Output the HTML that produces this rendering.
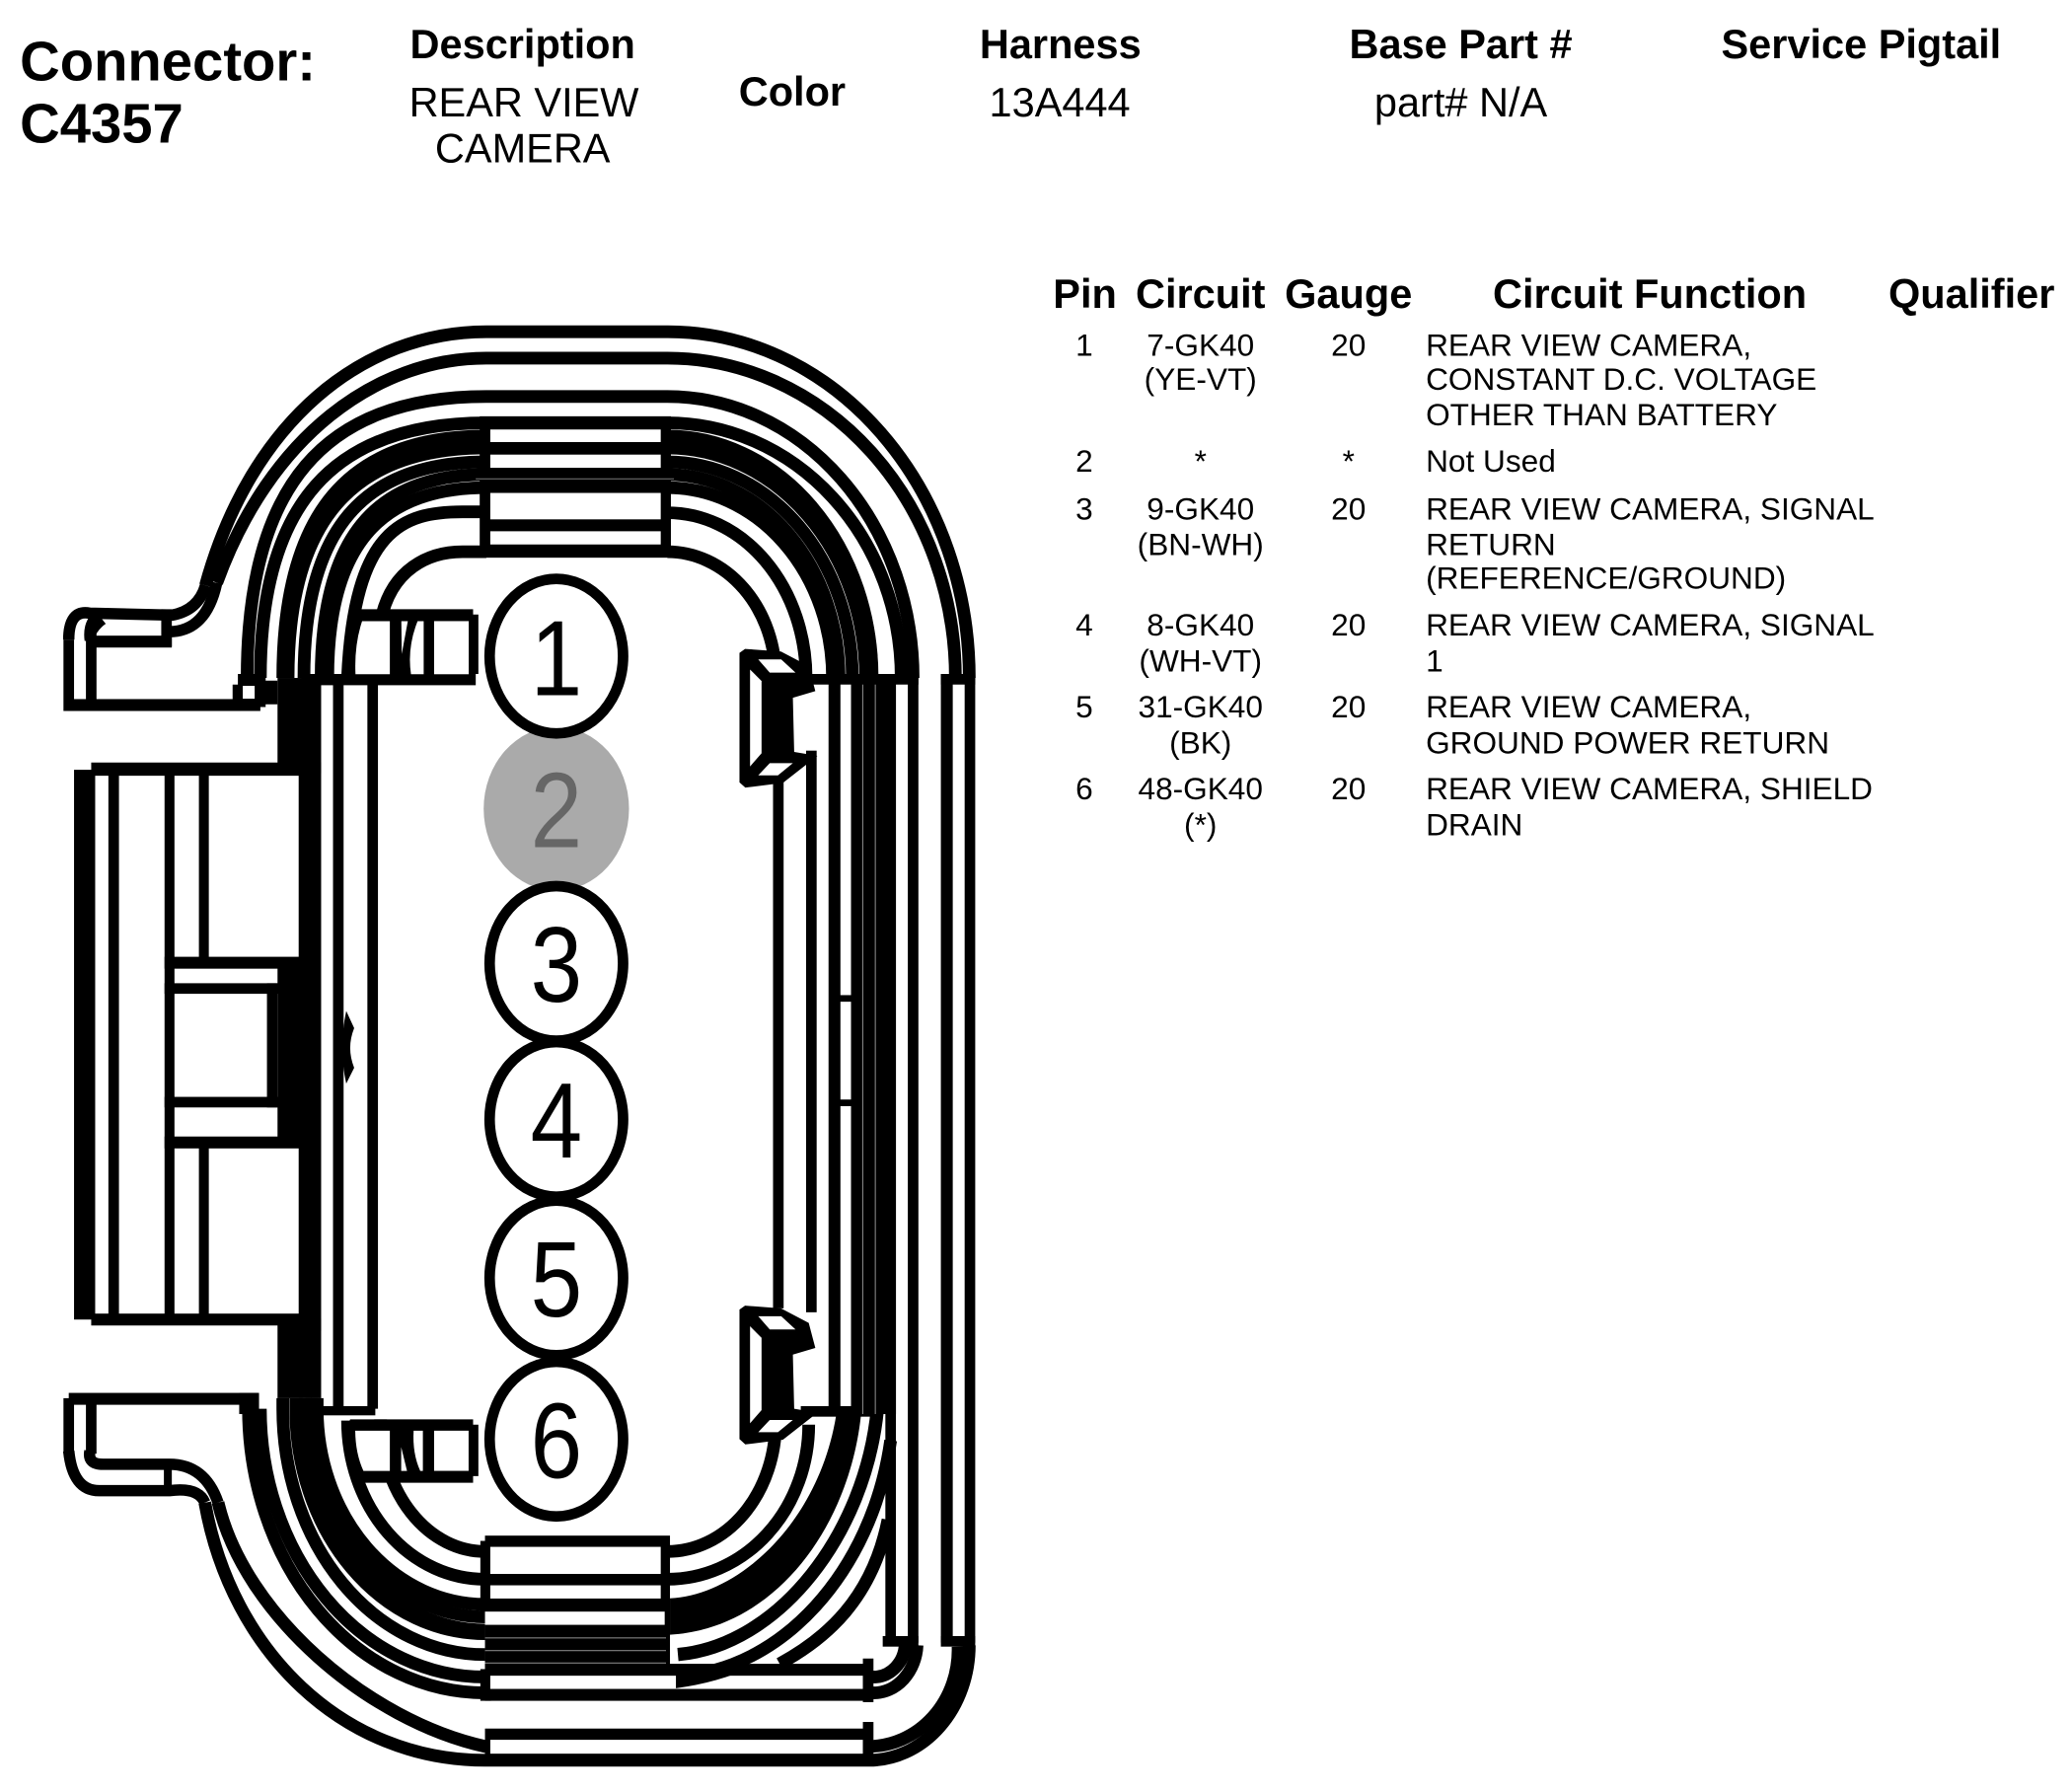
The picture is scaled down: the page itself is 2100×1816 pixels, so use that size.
<!DOCTYPE html>
<html><head><meta charset="utf-8"><style>
html,body{margin:0;padding:0;background:#fff}
svg{display:block}
text{font-family:"Liberation Sans",Arial,sans-serif;fill:#000}
.b{font-weight:bold;font-size:31px;text-anchor:middle}
.h{font-size:31px;text-anchor:middle}
.t{font-size:23.6px}
.c{font-size:23.6px;text-anchor:middle}
.d{font-size:81px;text-anchor:middle}
.l{fill:none;stroke:#000;stroke-width:9.6}
</style></head><body>
<svg xmlns="http://www.w3.org/2000/svg" width="2100" height="1816" viewBox="0 0 1568 1356">
<rect width="1568" height="1356" fill="#fff"/>
<text x="15" y="61" style="font-weight:bold;font-size:42px">Connector:</text>
<text x="15" y="108" style="font-weight:bold;font-size:42px">C4357</text>
<text class="b" x="395.5" y="44">Description</text>
<text class="h" x="396.5" y="88">REAR VIEW</text>
<text class="h" x="395.5" y="123">CAMERA</text>
<text class="b" x="599.5" y="80">Color</text>
<text class="b" x="802.5" y="44">Harness</text>
<text class="h" x="802" y="88">13A444</text>
<text class="b" x="1105.5" y="44">Base Part #</text>
<text class="h" x="1105.5" y="88">part# N/A</text>
<text class="b" x="1408.5" y="44">Service Pigtail</text>
<text class="b" x="821" y="233">Pin</text>
<text class="b" x="908.5" y="233">Circuit</text>
<text class="b" x="1020.5" y="233">Gauge</text>
<text class="b" x="1248.5" y="233">Circuit Function</text>
<text class="b" x="1492" y="233">Qualifier</text>
<text class="c" x="820.5" y="269">1</text><text class="c" x="908.5" y="269">7-GK40</text><text class="c" x="908.5" y="295">(YE-VT)</text><text class="c" x="1020.5" y="269">20</text>
<text class="t" x="1079" y="269">REAR VIEW CAMERA,</text><text class="t" x="1079" y="295">CONSTANT D.C. VOLTAGE</text><text class="t" x="1079" y="322">OTHER THAN BATTERY</text>
<text class="c" x="820.5" y="357">2</text><text class="c" x="908.5" y="357">*</text><text class="c" x="1020.5" y="357">*</text><text class="t" x="1079" y="357">Not Used</text>
<text class="c" x="820.5" y="393">3</text><text class="c" x="908.5" y="393">9-GK40</text><text class="c" x="908.5" y="420">(BN-WH)</text><text class="c" x="1020.5" y="393">20</text>
<text class="t" x="1079" y="393">REAR VIEW CAMERA, SIGNAL</text><text class="t" x="1079" y="420">RETURN</text><text class="t" x="1079" y="445.5">(REFERENCE/GROUND)</text>
<text class="c" x="820.5" y="481">4</text><text class="c" x="908.5" y="481">8-GK40</text><text class="c" x="908.5" y="508">(WH-VT)</text><text class="c" x="1020.5" y="481">20</text>
<text class="t" x="1079" y="481">REAR VIEW CAMERA, SIGNAL</text><text class="t" x="1079" y="508">1</text>
<text class="c" x="820.5" y="543">5</text><text class="c" x="908.5" y="543">31-GK40</text><text class="c" x="908.5" y="570">(BK)</text><text class="c" x="1020.5" y="543">20</text>
<text class="t" x="1079" y="543">REAR VIEW CAMERA,</text><text class="t" x="1079" y="570">GROUND POWER RETURN</text>
<text class="c" x="820.5" y="605">6</text><text class="c" x="908.5" y="605">48-GK40</text><text class="c" x="908.5" y="632">(*)</text><text class="c" x="1020.5" y="605">20</text>
<text class="t" x="1079" y="605">REAR VIEW CAMERA, SHIELD</text><text class="t" x="1079" y="632">DRAIN</text>

<!-- top arcs -->
<path class="l" style="stroke-width:8.6" d="M52 484Q52 461 68 464L130 465.5Q150 462 155.5 443"/>
<path class="l" d="M155.5 443C190 318 275 251 368 251H505A228 262 0 0 1 733.5 513"/>
<path class="l" style="stroke-width:8.6" d="M128 478Q156 478 164 441"/>
<path class="l" d="M164 441C204 330 285 271 368 271H505A218 242 0 0 1 723 513"/>
<path class="l" d="M187 513C187 368 245 300 368 300H505A186 213 0 0 1 691 513"/>
<path class="l" d="M368 320C251.700 320 197 381.800 197 513"/>
<path class="l" d="M505 320A177 193 0 0 1 682 513"/>
<path class="l" d="M368 330C263 330 214 388.600 214 513"/>
<path class="l" d="M368 339C266 339 218 394.700 218 513"/>
<path class="l" d="M505 330A155 183 0 0 1 660 513"/>
<path class="l" d="M505 339A150 174 0 0 1 655 513"/>
<path class="l" d="M368 349.500C274 349.500 230 401.800 230 513"/>
<path class="l" d="M505 349.500A140 163.500 0 0 1 645 513"/>
<path class="l" d="M368 359C283 359 243 408.300 243 513"/>
<path class="l" d="M368 369C286 369 248 415 248 513"/>
<path class="l" d="M505 359A130 154 0 0 1 635 513"/>
<path class="l" d="M505 369A125 144 0 0 1 630 513"/>
<path class="l" d="M368 387.300H350C305 387.300 268 400 263 513"/>
<path class="l" d="M505 388A105 125 0 0 1 610 513"/>
<path class="l" d="M368 417.500H350C325 417.500 296 430 288 470"/>
<path class="l" d="M505 417.500A82 95.500 0 0 1 587 513"/>

<!-- bottom arcs -->
<path class="l" style="stroke-width:8.6" d="M52 1098Q55 1128 75 1128H128Q150 1125 155 1137"/>
<path class="l" d="M155 1137C175 1250 260 1332 367 1332H657A76 87 0 0 0 733.500 1245"/>
<path class="l" style="stroke-width:8.6" d="M68 1098Q66 1108 78 1108H128Q155 1108 165 1137"/>
<path class="l" d="M165 1137C185 1222 279 1302 367 1321.500H657A68 73 0 0 0 725 1246"/>
<path class="l" d="M188 1066A179 215 0 0 0 367 1281H661A33 38 0 0 0 694 1245"/>
<path class="l" d="M197 1066A170 203 0 0 0 367 1269H661A24 26 0 0 0 685 1244"/>
<path class="l" d="M214 1058V1066A153 186 0 0 0 367 1252"/>
<path class="l" style="stroke-width:10" d="M224 1058V1066A143 170 0 0 0 367 1236"/>
<path class="l" d="M231 1058V1066A136 167.500 0 0 0 367 1233.500"/>
<path class="l" d="M236 1058V1066A131 157.500 0 0 0 367 1223.500"/>
<path class="l" d="M240 1058V1066A127 148 0 0 0 367 1214"/>
<path class="l" d="M263 1075A104 120 0 0 0 367 1195H505A107 117 0 0 0 612 1078"/>
<path class="l" d="M288 1074A79 100 0 0 0 367 1174H505A82 98 0 0 0 587 1076"/>
<path d="M507 1209.500C560 1207 622 1150 633.500 1066H652C645 1150 590 1232 507 1237Z"/>
<path class="l" style="stroke-width:10" d="M513 1252C590 1245 655 1160 664 1066"/>
<path class="l" d="M513 1268C590 1265 660 1190 674 1090"/>
<path class="l" d="M590 1259C625 1240 660 1210 672 1150"/>

<!-- left vertical stacks -->
<rect x="210" y="513" width="33" height="72"/><rect x="210" y="998" width="33" height="60"/>
<rect x="226" y="577" width="17" height="430"/><rect x="210" y="732" width="18" height="131"/>
<rect x="252" y="513" width="8" height="553"/><rect x="278" y="513" width="8" height="553"/>
<rect x="228" y="510" width="132" height="8.500"/><rect x="234" y="1064" width="50" height="7"/>

<!-- left box -->
<rect x="56" y="582.500" width="16" height="416"/><rect x="82" y="582.500" width="8" height="416"/>
<rect x="124.500" y="582" width="7.500" height="417"/><rect x="150.500" y="582" width="7.500" height="146"/><rect x="150.500" y="864" width="7.500" height="135"/>
<rect x="69" y="577" width="160" height="10"/><rect x="69" y="994" width="160" height="9"/>
<rect x="124.500" y="724" width="104" height="9"/><rect x="124.500" y="744" width="86" height="8"/>
<rect x="202" y="744" width="8" height="94"/><rect x="124.500" y="830" width="86" height="8"/><rect x="124.500" y="860" width="104" height="9"/>
<path d="M262 765L268 778Q262 793 268 808L262 820Q256 793 262 765Z"/>

<!-- tab details -->
<rect x="48" y="484" width="8" height="54"/><rect x="65" y="476" width="8" height="60"/><rect x="52" y="529" width="130" height="9"/>
<path d="M176 518H180V510H201V515H210V533H201V535H197V538H180V535H176Z"/><rect x="183.700" y="519" width="9" height="9.700" fill="#fff"/>
<rect x="70" y="481" width="60" height="9"/><rect x="122" y="461" width="8" height="28"/>
<path d="M64 485Q62 470 72 462L80 472Q74 476 70 485Z"/>
<rect x="52" y="1054" width="143" height="9"/><rect x="181" y="1054" width="15" height="16"/>
<rect x="48" y="1058" width="8" height="42"/><rect x="65" y="1058" width="8" height="42"/>
<rect x="124" y="1104" width="6" height="28"/>

<!-- right verticals -->
<rect x="585" y="590" width="8" height="400"/><rect x="610" y="568" width="8" height="425"/>
<rect x="627" y="510" width="9" height="560"/><rect x="644" y="510" width="34" height="560"/>
<rect x="670" y="510" width="8" height="733"/><rect x="687" y="510" width="8" height="733"/>
<rect x="712" y="510" width="9" height="733"/><rect x="730" y="510" width="8" height="733"/>
<rect x="610" y="510" width="68" height="8"/><rect x="606" y="1064" width="62" height="8"/>
<rect x="668" y="1238" width="27" height="8"/><rect x="712" y="1238" width="26" height="8"/>
<rect x="670" y="510" width="25" height="8"/><rect x="712" y="510" width="26" height="8"/>
<rect x="635" y="753" width="15" height="5"/><rect x="635" y="832" width="15" height="5"/>
<rect x="652.500" y="518" width=".8" height="552" fill="#888"/><rect x="662" y="518" width=".8" height="552" fill="#888"/>

<!-- pin side rectangles -->
<path d="M272 461H358V465H362V510H358V518H240V510H262Q262 480 272 461Z"/>
<path d="M274 470H295V510.200H269Q268 488 274 470Z" fill="#fff"/>
<path d="M303.700 470H308.600L304 495Z" fill="#fff"/>
<path d="M316 470H320.600V510.200H311Q308 490 316 470Z" fill="#fff"/>
<rect x="328.500" y="470" width="26.200" height="40.200" fill="#fff"/>

<path d="M265 1074H358V1078H362V1117H358V1122H275Q262 1110 260 1085Z"/>
<path d="M268.800 1082.600H295V1113H275Q269 1100 268.800 1082.600Z" fill="#fff"/>
<path d="M303.600 1095L308 1113H303.600Z" fill="#fff"/>
<path d="M313 1082.600H320V1113H318Q312 1100 313 1082.600Z" fill="#fff"/>
<rect x="328.500" y="1082.600" width="26.100" height="30.400" fill="#fff"/>

<!-- top centre box -->
<rect x="363" y="315" width="144.700" height="107"/>
<rect x="371" y="325" width="129" height="9.500" fill="#fff"/><rect x="371" y="344" width="129" height="10" fill="#fff"/>
<rect x="371" y="373" width="129" height="20" fill="#fff"/><rect x="371" y="402" width="129" height="10" fill="#fff"/>
<rect x="360" y="362" width="150" height=".6" fill="#999"/>

<!-- bottom centre box -->
<rect x="363.500" y="1166" width="8" height="56"/><rect x="363.500" y="1263" width="8" height="24"/>
<rect x="367" y="1162" width="140" height="100"/>
<rect x="371" y="1170.500" width="129" height="20.500" fill="#fff"/><rect x="371" y="1199.600" width="129" height="10" fill="#fff"/><rect x="367" y="1219.500" width="136" height="10" fill="#fff"/>
<rect x="367" y="1239" width="137" height=".8" fill="#888"/><rect x="367" y="1248.600" width="137" height=".8" fill="#888"/><rect x="367" y="1258" width="137" height=".8" fill="#888"/>
<rect x="367" y="1259" width="290" height="28"/><rect x="371" y="1268" width="282" height="10" fill="#fff"/>
<path d="M511.500 1260H572Q545 1273 511.500 1277.500Z"/>
<rect x="367" y="1308" width="290" height="28"/><rect x="371" y="1316.500" width="282" height="10.500" fill="#fff"/>
<rect x="653" y="1303" width="8" height="33"/><rect x="653" y="1255" width="8" height="33"/>

<!-- latches -->
<path d="M559.600 494L563.800 491L591 493L612 504L617 523L600 528L601 569L618.600 572L592.500 592.400L564 596L559.600 592Z"/>
<path d="M567.600 506.600L576.300 515.300V570L567.600 580Z" fill="#fff"/>
<path d="M573.800 499L591.200 499L602 509L582.500 509Z" fill="#fff"/>
<path d="M582.500 577.500H600L588.700 586.700H573.800Z" fill="#fff"/>
<g transform="translate(0,497)">
<path d="M559.600 494L563.800 491L591 493L612 504L617 523L600 528L601 569L618.600 572L592.500 592.400L564 596L559.600 592Z"/>
<path d="M567.600 506.600L576.300 515.300V570L567.600 580Z" fill="#fff"/>
<path d="M573.800 499L591.200 499L602 509L582.500 509Z" fill="#fff"/>
<path d="M582.500 577.500H600L588.700 586.700H573.800Z" fill="#fff"/>
</g>

<!-- pins -->
<ellipse cx="421" cy="612" rx="55" ry="62" fill="#aaa"/>
<text class="d" transform="translate(421 641) scale(.87 1)" style="fill:#666">2</text>
<g fill="#fff" stroke="#000" stroke-width="8">
<ellipse cx="421" cy="496.500" rx="50.500" ry="58.500"/>
<ellipse cx="421" cy="729" rx="50.500" ry="58.500"/>
<ellipse cx="421" cy="847" rx="50.500" ry="58.500"/>
<ellipse cx="421" cy="967" rx="50.500" ry="58.500"/>
<ellipse cx="421" cy="1089" rx="50.500" ry="58.500"/>
</g>
<text class="d" transform="translate(421 526) scale(.87 1)">1</text>
<text class="d" transform="translate(421 758) scale(.87 1)">3</text>
<text class="d" transform="translate(421 876) scale(.87 1)">4</text>
<text class="d" transform="translate(421 996) scale(.87 1)">5</text>
<text class="d" transform="translate(421 1118) scale(.87 1)">6</text>
</svg>
</body></html>
